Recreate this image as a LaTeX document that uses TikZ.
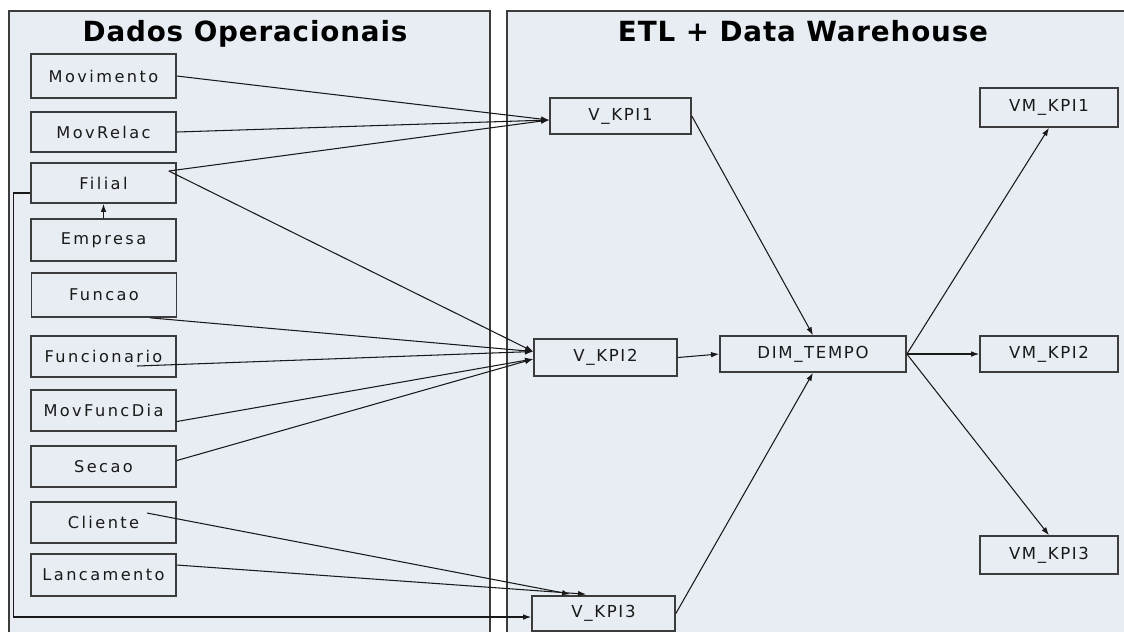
\documentclass[tikz,border=0pt]{standalone}
\usepackage{fontspec}
\setmainfont{DejaVu Sans}
\newfontfamily\boxfont{DejaVu Sans}[LetterSpace=15]
\newfontfamily\kpifont{DejaVu Sans}[LetterSpace=10]
\newfontfamily\headfont{DejaVu Sans}[LetterSpace=3]
\usetikzlibrary{arrows.meta,calc}
\definecolor{panelfill}{RGB}{232,237,244}
\definecolor{edge}{RGB}{60,60,60}
\definecolor{ink}{RGB}{25,25,25}
\begin{document}
\begin{tikzpicture}[x=0.01cm,y=-0.01cm,
  srcbox/.style={draw=edge, line width=0.45pt, minimum width=1.45cm,
    minimum height=0.41cm, inner sep=0pt,
    font=\boxfont\fontsize{4.6}{5}\selectfont, text=ink},
  kpibox/.style={draw=edge, line width=0.45pt, inner sep=0pt,
    font=\kpifont\fontsize{4.7}{5}\selectfont, text=ink},
  flow/.style={draw=ink, line width=0.3pt, -{Latex[length=2.3pt,width=1.6pt]}},
  paneltitle/.style={font=\headfont\fontsize{7.9}{9}\selectfont\bfseries, text=black, anchor=base},
  panel/.style={draw=edge, line width=0.5pt}]

\useasboundingbox (0,0) rectangle (1124,632);
\fill[white] (0,0) rectangle (1124,632);

% the two panels
\fill[panelfill] (9,11) rectangle (490,632);
\fill[panelfill] (507,11) rectangle (1124,632);
\draw[panel] (9,632) -- (9,11) -- (490,11) -- (490,632);
\draw[panel] (507,632) -- (507,11) -- (1124,11);

\node[paneltitle] (t1) at (245,41) {Dados Operacionais};
\node[paneltitle] (t2) at (803,41) {ETL + Data Warehouse};

% operational sources
\node[srcbox, minimum height=0.44cm] (mov) at (103.5,76) {Movimento};
\node[srcbox, minimum height=0.40cm] (movrelac) at (103.5,132) {MovRelac};
\node[srcbox, minimum height=0.40cm] (filial) at (103.5,183) {Filial};
\node[srcbox, minimum height=0.42cm] (empresa) at (103.5,240) {Empresa};
\node[srcbox, minimum height=0.44cm] (funcao) at (104,295) {Funcao};
\node[srcbox] (funcionario) at (103.5,356.5) {Funcionario};
\node[srcbox] (movfuncdia) at (103.5,410.5) {MovFuncDia};
\node[srcbox] (secao) at (103.5,466.5) {Secao};
\node[srcbox] (cliente) at (103.5,522.5) {Cliente};
\node[srcbox, minimum height=0.42cm] (lancamento) at (103.5,575) {Lancamento};

% views and warehouse
\node[kpibox, minimum width=1.41cm, minimum height=0.36cm] (vkpi1) at (620.5,116) {V\_KPI1};
\node[kpibox, minimum width=1.43cm, minimum height=0.37cm] (vkpi2) at (605.5,357.5) {V\_KPI2};
\node[kpibox, minimum width=1.43cm, minimum height=0.35cm] (vkpi3) at (603.5,613.5) {V\_KPI3};
\node[kpibox, minimum width=1.86cm, minimum height=0.36cm] (dim) at (813,354) {DIM\_TEMPO};
\node[kpibox, minimum width=1.38cm, minimum height=0.39cm] (vm1) at (1049,107.5) {VM\_KPI1};
\node[kpibox, minimum width=1.38cm, minimum height=0.36cm] (vm2) at (1049,354) {VM\_KPI2};
\node[kpibox, minimum width=1.38cm, minimum height=0.38cm] (vm3) at (1049,555) {VM\_KPI3};

% connector end points
\coordinate (k1in) at ($(vkpi1.west)+(0,4)$);
\coordinate (k2a) at ($(vkpi2.west)+(0,-6)$);
\coordinate (k2b) at ($(vkpi2.west)+(0,1.5)$);
\coordinate (k3a) at ($(vkpi3.north west)+(39,-1)$);
\coordinate (k3b) at ($(vkpi3.north west)+(55,-1)$);
\coordinate (filout) at ($(filial.east)+(-8,-12)$);
\coordinate (filleft) at ($(filial.west)+(0,10)$);
\coordinate (funcaoout) at ($(funcao.south)+(46,0)$);
\coordinate (funcout) at ($(funcionario.center)+(33.5,9.5)$);
\coordinate (mfdout) at ($(movfuncdia.east)+(0,11)$);
\coordinate (secout) at ($(secao.east)+(0,-6)$);
\coordinate (cliout) at ($(cliente.center)+(43.5,-9.5)$);
\coordinate (lancout) at ($(lancamento.east)+(0,-10)$);
\coordinate (k3left) at ($(vkpi3.west)+(0,3.5)$);

% sources into the views
\draw[flow] (mov.east) -- (k1in);
\draw[flow] (movrelac.east) -- (k1in);
\draw[flow] (filout) -- (k1in);
\draw[flow] (filout) -- (k2a);
\draw[flow] (empresa.north) -- (filial.south);
\draw[flow] (funcaoout) -- (k2a);
\draw[flow] (funcout) -- (k2a);
\draw[flow] (mfdout) -- (k2b);
\draw[flow] (secout) -- (k2b);
\draw[flow] (cliout) -- (k3a);
\draw[flow] (lancout) -- (k3b);
\draw[flow] (filleft) -- ++(-17,0) |- (k3left);

% views into the time dimension and on to the materialised views
\draw[flow] (vkpi1.east) -- (dim.north);
\draw[flow] (vkpi2.east) -- (dim.west);
\draw[flow] (vkpi3.east) -- (dim.south);
\draw[flow] (dim.east) -- (vm1.south);
\draw[flow] (dim.east) -- (vm2.west);
\draw[flow] (dim.east) -- (vm3.north);
\end{tikzpicture}
\end{document}
